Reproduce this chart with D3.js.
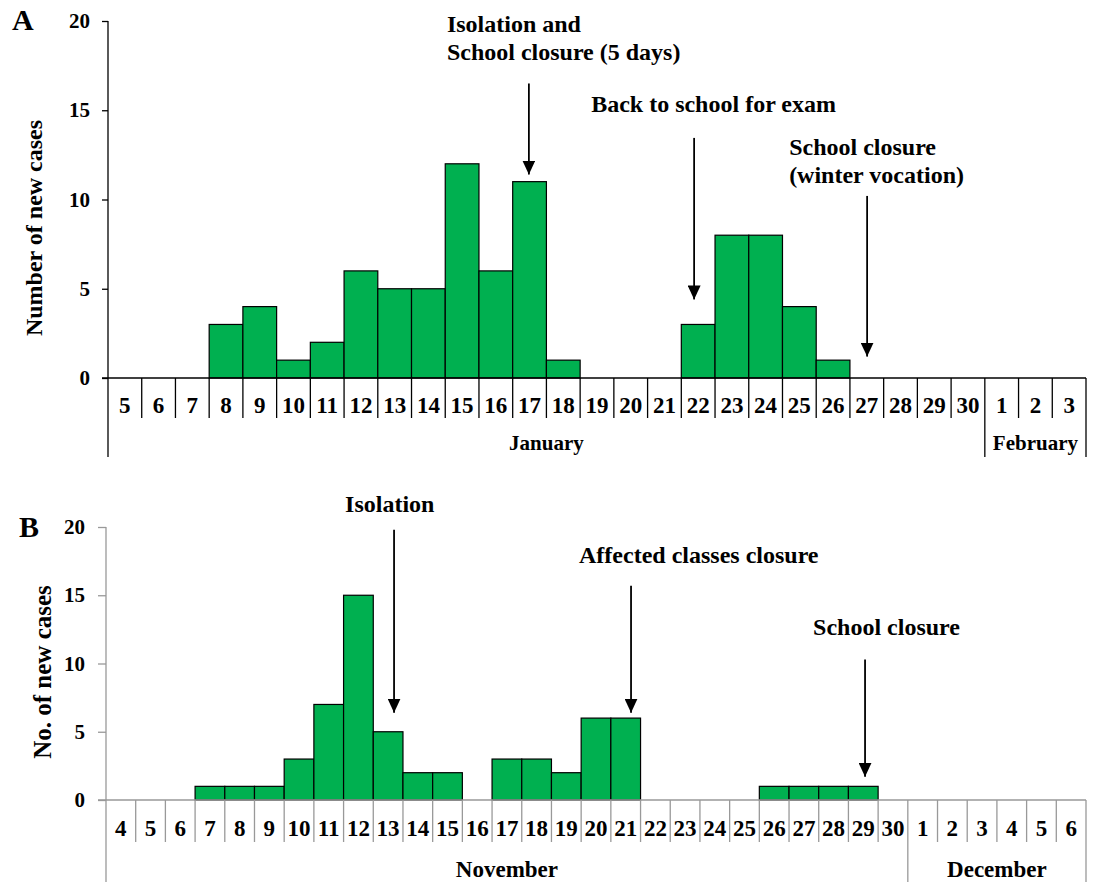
<!DOCTYPE html>
<html>
<head>
<meta charset="utf-8">
<script src="https://cdn.jsdelivr.net/npm/d3@7"></script>
<style>
  body { margin: 0; background: #fff; }
  svg { display: block; font-family: "Liberation Serif", "Times New Roman", serif; font-weight: bold; }
</style>
</head>
<body>
<svg id="chart" width="1094" height="882"></svg>
<script>
// panel A: January outbreak
const daysA = ["5","6","7","8","9","10","11","12","13","14","15","16","17","18","19","20",
  "21","22","23","24","25","26","27","28","29","30","1","2","3"];
const casesA = [0,0,0,3,4,1,2,6,5,5,12,6,11,1,0,0,0,3,8,8,4,1,0,0,0,0,0,0,0];
const monthsA = ["January", "February"];

// panel B: November outbreak
const daysB = ["4","5","6","7","8","9","10","11","12","13","14","15","16","17","18","19","20",
  "21","22","23","24","25","26","27","28","29","30","1","2","3","4","5","6"];
const casesB = [0,0,0,1,1,1,3,7,15,5,2,2,0,3,3,2,6,6,0,0,0,0,1,1,1,1,0,0,0,0,0,0,0];
const monthsB = ["November", "December"];

const yTicks = [0, 5, 10, 15, 20];

// arrows: pos = fractional day index, top/tip in case units
const notesA = [
  { lines: ["Isolation and", "School closure (5 days)"], pos: 12.48, top: 16.5, tip: 11.4, tx: -82, ty: [32, 60] },
  { lines: ["Back to school for exam"], pos: 17.38, top: 13.45, tip: 4.4, tx: -103, ty: [112] },
  { lines: ["School closure", "(winter vocation)"], pos: 22.51, top: 10.2, tip: 1.2, tx: -78, ty: [155, 183] }
];
const notesB = [
  { lines: ["Isolation"], pos: 9.7, top: 19.8, tip: 6.4, tx: -49, ty: [512] },
  { lines: ["Affected classes closure"], pos: 17.68, top: 15.7, tip: 6.4, tx: -52, ty: [563] },
  { lines: ["School closure"], pos: 25.56, top: 10.3, tip: 1.7, tx: -52, ty: [635] }
];

const svg = d3.select("#chart");

svg.append("defs").append("marker")
  .attr("id", "arrow")
  .attr("viewBox", "0 -5 10 10")
  .attr("refX", 10)
  .attr("refY", 0)
  .attr("markerWidth", 14)
  .attr("markerHeight", 13)
  .attr("markerUnits", "userSpaceOnUse")
  .attr("orient", "auto")
  .attr("preserveAspectRatio", "none")
  .append("path")
  .attr("d", "M0,-5L10,0L0,5Z")
  .attr("fill", "#000");

function drawPanel(p) {
  const g = svg.append("g");
  const idx = d3.range(p.days.length);

  const x = d3.scaleBand().domain(idx).range([p.left, p.right]).padding(0);
  const xPos = d3.scaleLinear().domain([0, p.days.length]).range([p.left, p.right]);
  const y = d3.scaleLinear().domain([0, 20]).range([p.zero, p.top]);

  // y axis
  const yAxis = d3.axisLeft(y).tickValues(yTicks).tickSize(p.tick).tickPadding(p.pad);
  const ya = g.append("g").attr("transform", `translate(${p.left},0)`).call(yAxis);
  ya.select(".domain").remove();
  ya.selectAll(".tick line").attr("stroke", p.axisColor).attr("stroke-width", 1.3);
  ya.selectAll(".tick text")
    .attr("font-family", "Liberation Serif, Times New Roman, serif")
    .attr("font-weight", "bold")
    .attr("font-size", 21)
    .attr("fill", "#000");

  // left vertical axis line down to bottom of month row
  g.append("line")
    .attr("x1", p.left).attr("x2", p.left)
    .attr("y1", p.top).attr("y2", p.bottom)
    .attr("stroke", p.axisColor).attr("stroke-width", 1.3);

  // bars
  g.append("g").selectAll("rect")
    .data(idx.filter(i => p.cases[i] > 0))
    .join("rect")
    .attr("x", i => x(i))
    .attr("y", i => y(p.cases[i]))
    .attr("width", x.bandwidth())
    .attr("height", i => y(0) - y(p.cases[i]))
    .attr("fill", "#00b050")
    .attr("stroke", "#000")
    .attr("stroke-width", 1.2);

  // baseline
  g.append("line")
    .attr("x1", p.left - p.tick).attr("x2", p.right)
    .attr("y1", y(0)).attr("y2", y(0))
    .attr("stroke", p.axisColor).attr("stroke-width", 1.3);

  // day grid lines
  const monthBreak = p.days.indexOf("1");
  g.append("g").selectAll("line")
    .data(idx.slice(1))
    .join("line")
    .attr("x1", i => x(i)).attr("x2", i => x(i))
    .attr("y1", y(0))
    .attr("y2", i => i === monthBreak ? p.bottom : p.gridEnd)
    .attr("stroke", p.axisColor).attr("stroke-width", 1.3);

  g.append("line")
    .attr("x1", p.right).attr("x2", p.right)
    .attr("y1", y(0)).attr("y2", p.bottom)
    .attr("stroke", p.axisColor).attr("stroke-width", 1.3);

  // day labels
  g.append("g").selectAll("text")
    .data(idx)
    .join("text")
    .attr("x", i => x(i) + x.bandwidth() / 2)
    .attr("y", p.dayY)
    .attr("text-anchor", "middle")
    .attr("font-size", 23)
    .text(i => p.days[i]);

  // month labels
  const spans = [[0, monthBreak], [monthBreak, p.days.length]];
  g.append("g").selectAll("text")
    .data(p.months)
    .join("text")
    .attr("x", (d, k) => (xPos(spans[k][0]) + xPos(spans[k][1])) / 2)
    .attr("y", p.monthY)
    .attr("text-anchor", "middle")
    .attr("font-size", p.monthSize)
    .text(d => d);

  // y title
  g.append("text")
    .attr("transform", `translate(${p.titleX},${p.titleY}) rotate(-90)`)
    .attr("text-anchor", "middle")
    .attr("font-size", p.titleSize)
    .text(p.title);

  // panel letter
  g.append("text")
    .attr("x", p.letterX).attr("y", p.letterY)
    .attr("font-size", 30)
    .text(p.letter);

  // annotations
  p.notes.forEach(n => {
    const ax = xPos(n.pos);
    g.append("line")
      .attr("x1", ax).attr("x2", ax)
      .attr("y1", y(n.top)).attr("y2", y(n.tip))
      .attr("stroke", "#000").attr("stroke-width", 1.8)
      .attr("marker-end", "url(#arrow)");
    n.lines.forEach((t, k) => {
      g.append("text")
        .attr("x", ax + n.tx)
        .attr("y", n.ty[k])
        .attr("font-size", 24)
        .text(t);
    });
  });
}

drawPanel({
  days: daysA, cases: casesA, months: monthsA, notes: notesA,
  left: 108, right: 1086, zero: 378, top: 21, bottom: 457, gridEnd: 418,
  dayY: 413, monthY: 450, monthSize: 21, tick: 6, pad: 12,
  axisColor: "#000", title: "Number of new cases", titleX: 42, titleY: 228, titleSize: 24,
  letter: "A", letterX: 12, letterY: 30
});

drawPanel({
  days: daysB, cases: casesB, months: monthsB, notes: notesB,
  left: 106, right: 1086, zero: 800, top: 527, bottom: 882, gridEnd: 842,
  dayY: 836, monthY: 877, monthSize: 23, tick: 8, pad: 13,
  axisColor: "#999", title: "No. of new cases", titleX: 51, titleY: 672, titleSize: 25,
  letter: "B", letterX: 19, letterY: 537
});
</script>
</body>
</html>
